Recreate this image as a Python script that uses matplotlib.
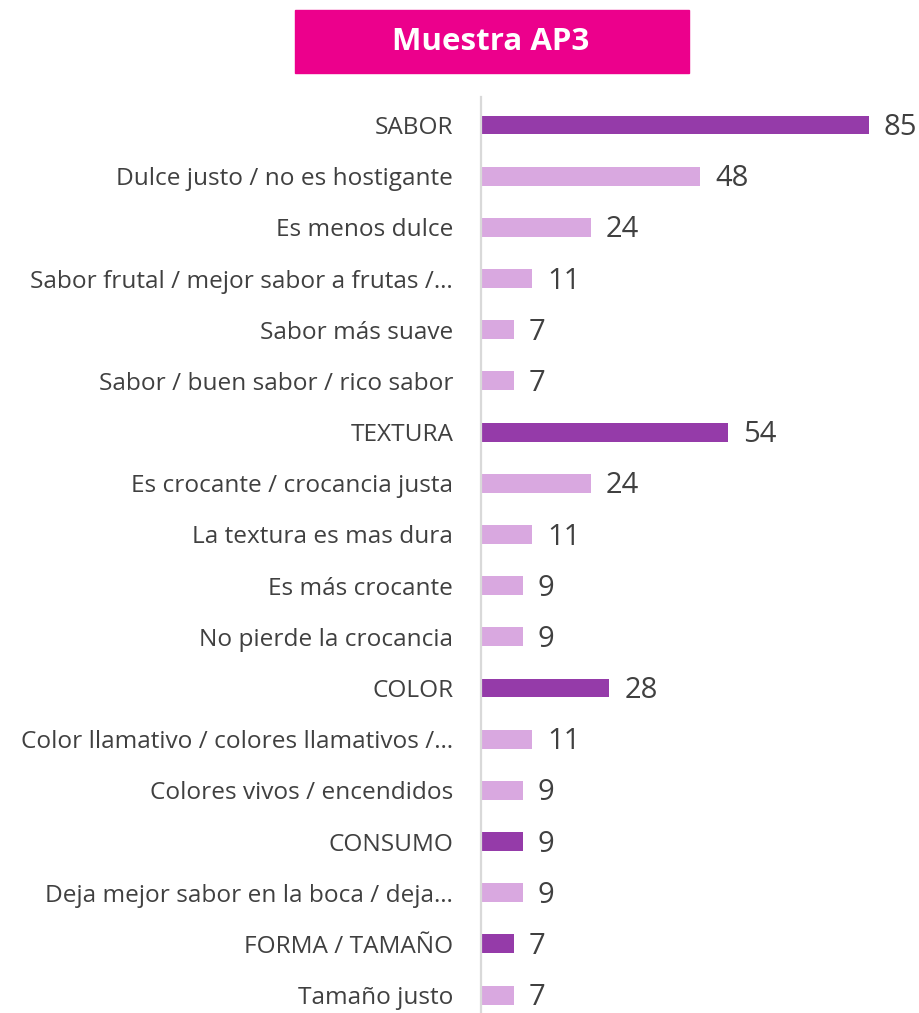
import matplotlib.pyplot as plt
from matplotlib.patches import Rectangle

# Categorías (grupos en mayúsculas) y sus menciones
categorias = [
    "SABOR",
    "Dulce justo / no es hostigante",
    "Es menos dulce",
    "Sabor frutal / mejor sabor a frutas /…",
    "Sabor más suave",
    "Sabor / buen sabor / rico sabor",
    "TEXTURA",
    "Es crocante / crocancia justa",
    "La textura es mas dura",
    "Es más crocante",
    "No pierde la crocancia",
    "COLOR",
    "Color llamativo / colores llamativos /…",
    "Colores vivos / encendidos",
    "CONSUMO",
    "Deja mejor sabor en la boca / deja…",
    "FORMA / TAMAÑO",
    "Tamaño justo",
]
valores = [85, 48, 24, 11, 7, 7, 54, 24, 11, 9, 9, 28, 11, 9, 9, 9, 7, 7]
es_grupo = [c.isupper() or c == "FORMA / TAMAÑO" for c in categorias]

morado = "#953BA9"
lila = "#D9A8E0"
gris = "#404040"

plt.rcParams['font.family'] = ['Open Sans', 'DejaVu Sans']

fig = plt.figure(figsize=(9.2, 10.13), dpi=100)
W, H = 920, 1013
ax = fig.add_axes([481 / W, 0, 1 - 481 / W, (1013 - 97) / H])

y = list(range(len(categorias)))
colores = [morado if g else lila for g in es_grupo]
ax.barh(y, valores, height=0.37, color=colores, left=0.2)

ax.set_xlim(0, 96.5)
ax.set_ylim(17.35, -0.547)

for yi, v in zip(y, valores):
    ax.text(v + 3.5, yi + 0.05, str(v), va="center", ha="left",
            fontsize=21, color=gris)

ax.set_yticks(y)
ax.set_yticklabels(categorias, fontsize=17.6, color=gris)
ax.tick_params(axis="y", length=0, pad=20)
ax.set_xticks([])
for s in ["top", "right", "bottom"]:
    ax.spines[s].set_visible(False)
ax.spines["left"].set_color("#D9D9D9")
ax.spines["left"].set_linewidth(1.6)

# Recuadro del título
fig.patches.append(Rectangle((295 / W, 1 - 73 / H), (689 - 295) / W, 63 / H,
                             transform=fig.transFigure, color="#EC008C"))
fig.text(491 / W, 1 - 42 / H, "Muestra AP3", ha="center", va="center",
         fontsize=22.5, fontweight="bold", color="white")

fig.savefig("out.png", dpi=100)
